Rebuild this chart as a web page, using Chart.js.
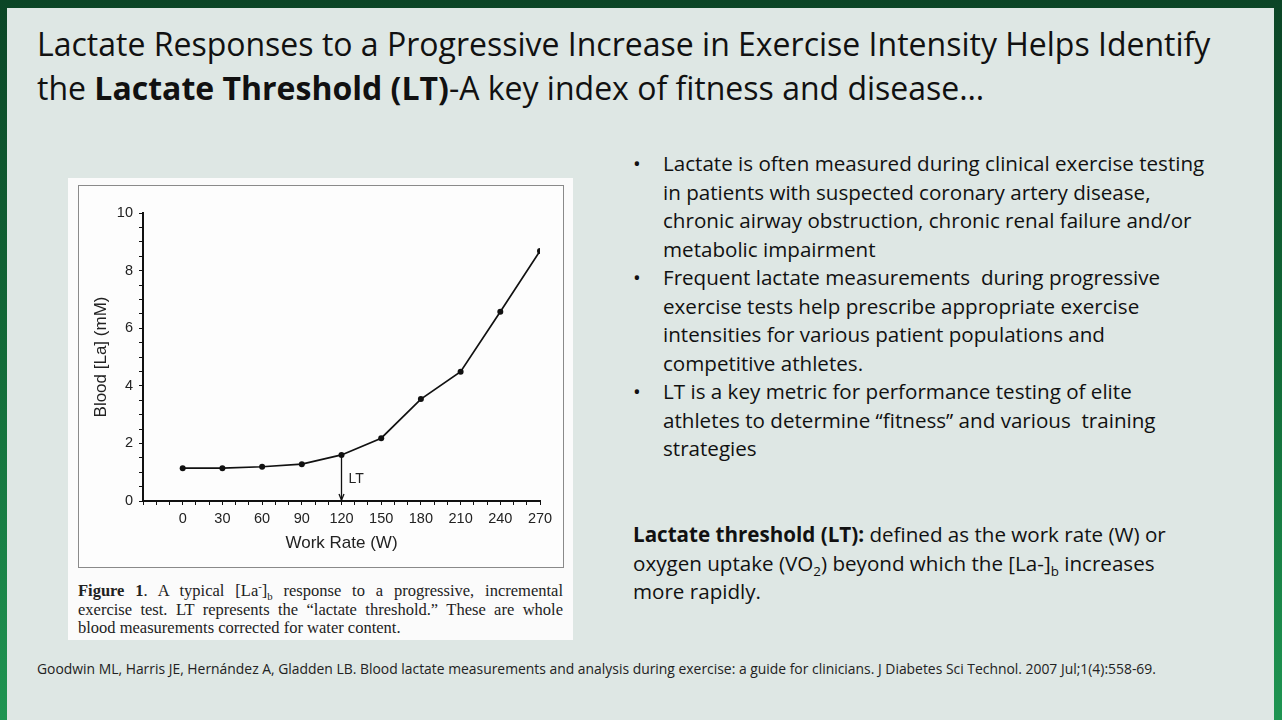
<!DOCTYPE html>
<html>
<head>
<meta charset="utf-8">
<script src="https://cdn.jsdelivr.net/npm/chart.js@4.4.1/dist/chart.umd.min.js"></script>
<style>
  html,body{margin:0;padding:0;}
  body{width:1282px;height:720px;position:relative;overflow:hidden;
       background:linear-gradient(180deg,#0b4526 0%,#126b38 50%,#1f9552 100%);font-family:"Open Sans",sans-serif;color:#111;}
  #panel{position:absolute;left:7px;top:8px;width:1267px;height:712px;background:#dee7e4;}
  .abs{position:absolute;}
  #title{left:37px;top:22px;font-size:32px;line-height:44px;white-space:nowrap;color:#111;}
  #bullets{left:633px;top:149px;font-size:20.6px;line-height:28.5px;white-space:nowrap;}
  .b{position:relative;padding-left:30px;}
  .b:before{content:"•";position:absolute;left:0;top:0;}
  #def{left:633px;top:520px;font-size:20.6px;line-height:28.5px;white-space:nowrap;}
  #foot{left:37px;top:660px;font-size:13.9px;line-height:18px;white-space:nowrap;color:#222;}
  #fig{left:68px;top:178px;width:505px;height:462px;background:#fbfbfb;}
  #frame{left:78px;top:185px;width:484px;height:381px;border:1px solid #8a8a8a;background:#fdfdfd;}
  #cv{left:78px;top:185px;}
  #cap{left:78px;top:582px;width:485px;font-family:"Liberation Serif","DejaVu Serif",serif;font-size:16.5px;line-height:18.5px;color:#222;}
  #cap div{text-align:justify;text-align-last:justify;white-space:nowrap;}
  #cap div.last{text-align-last:left;}
  sub,sup{font-size:65%;line-height:0;}
</style>
</head>
<body>
<div id="panel"></div>
<div id="title" class="abs">Lactate Responses to a Progressive Increase in Exercise Intensity Helps Identify<br>the <b>Lactate Threshold (LT)</b>-A key index of fitness and disease…</div>

<div id="bullets" class="abs">
  <div class="b">Lactate is often measured during clinical exercise testing<br>in patients with suspected coronary artery disease,<br>chronic airway obstruction, chronic renal failure and/or<br>metabolic impairment</div>
  <div class="b">Frequent lactate measurements&nbsp; during progressive<br>exercise tests help prescribe appropriate exercise<br>intensities for various patient populations and<br>competitive athletes.</div>
  <div class="b">LT is a key metric for performance testing of elite<br>athletes to determine “fitness” and various&nbsp; training<br>strategies</div>
</div>

<div id="def" class="abs"><b>Lactate threshold (LT):</b> defined as the work rate (W) or<br>oxygen uptake (VO<sub>2</sub>) beyond which the [La-]<sub>b</sub> increases<br>more rapidly.</div>

<div id="fig" class="abs"></div>
<div id="frame" class="abs"></div>
<canvas id="cv" class="abs" width="485" height="382" style="width:485px;height:382px;"></canvas>
<div id="cap" class="abs">
  <div><b>Figure 1</b>. A typical [La<sup>-</sup>]<sub>b</sub> response to a progressive, incremental</div>
  <div>exercise test. LT represents the “lactate threshold.” These are whole</div>
  <div class="last">blood measurements corrected for water content.</div>
</div>

<div id="foot" class="abs">Goodwin ML, Harris JE, Hernández A, Gladden LB. Blood lactate measurements and analysis during exercise: a guide for clinicians. J Diabetes Sci Technol. 2007 Jul;1(4):558-69.</div>

<script>
// ---- data ----
const workRate = [0, 30, 60, 90, 120, 150, 180, 210, 240, 270];
const lactate  = [1.14, 1.14, 1.19, 1.28, 1.60, 2.18, 3.54, 4.49, 6.57, 8.68];
const xTickLabels = [0, 30, 60, 90, 120, 150, 180, 210, 240, 270];
const yTickLabels = [0, 2, 4, 6, 8, 10];
const ltWorkRate = 120;
const ltLabel = "LT";
const xTitle = "Work Rate (W)";
const yTitle = "Blood [La] (mM)";

const FONT = '"Liberation Sans", Arial, sans-serif';

const ltPlugin = {
  id: 'lt',
  afterDatasetsDraw(chart) {
    const {ctx, scales:{x, y}} = chart;
    const i = workRate.indexOf(ltWorkRate);
    const px = x.getPixelForValue(ltWorkRate);
    const top = y.getPixelForValue(lactate[i]);
    const bot = y.getPixelForValue(0);
    ctx.save();
    ctx.strokeStyle = '#111'; ctx.lineWidth = 1.3;
    ctx.beginPath(); ctx.moveTo(px, top); ctx.lineTo(px, bot - 1); ctx.stroke();
    ctx.beginPath(); ctx.moveTo(px - 2.5, bot - 7); ctx.lineTo(px, bot - 1); ctx.lineTo(px + 2.5, bot - 7); ctx.stroke();
    ctx.fillStyle = '#222'; ctx.font = '14px ' + FONT;
    ctx.textBaseline = 'middle'; ctx.textAlign = 'left';
    ctx.fillText(ltLabel, px + 7, y.getPixelForValue(0.75));
    ctx.restore();
  }
};

new Chart(document.getElementById('cv'), {
  type: 'line',
  data: {
    datasets: [{
      data: workRate.map((w, i) => ({x: w, y: lactate[i]})),
      borderColor: '#111', backgroundColor: '#111', borderWidth: 1.7,
      pointRadius: 3, pointBackgroundColor: '#111', pointBorderWidth: 0,
      tension: 0
    }]
  },
  options: {
    responsive: false, animation: false, devicePixelRatio: 1,
    layout: {padding: {top: 28, right: 23, left: 9, bottom: 13}},
    plugins: {legend: {display: false}, tooltip: {enabled: false}},
    scales: {
      x: {
        type: 'linear', min: -30, max: 270,
        afterFit(s) { s.height = 53; },
        afterBuildTicks(s) { const t = []; for (let v = -30; v <= 270; v += 10) t.push({value: v}); s.ticks = t; },
        border: {display: true, color: '#111', width: 2},
        grid: {drawOnChartArea: false, drawTicks: true, tickLength: 4, color: '#111', lineWidth: 1},
        ticks: {
          autoSkip: false, maxRotation: 0, padding: 5, color: '#222',
          font: {family: FONT, size: 14.5},
          callback: v => xTickLabels.includes(v) ? String(v) : ''
        },
        title: {display: true, text: xTitle, color: '#222', padding: {top: 1, bottom: 0},
                font: {family: FONT, size: 17}}
      },
      y: {
        type: 'linear', min: 0, max: 10,
        afterFit(s) { s.width = 56; },
        afterBuildTicks(s) { const t = []; for (let v = 0; v <= 10; v += 0.5) t.push({value: v}); s.ticks = t; },
        border: {display: true, color: '#111', width: 2},
        grid: {drawOnChartArea: false, drawTicks: true, tickLength: 4, color: '#111', lineWidth: 1},
        ticks: {
          autoSkip: false, padding: 6, color: '#222',
          font: {family: FONT, size: 14.5},
          callback: v => yTickLabels.includes(v) ? String(v) : ''
        },
        title: {display: true, text: yTitle, color: '#222', padding: {bottom: 0},
                font: {family: FONT, size: 17, weight: 'normal'}}
      }
    }
  },
  plugins: [ltPlugin]
});
</script>
</body>
</html>
